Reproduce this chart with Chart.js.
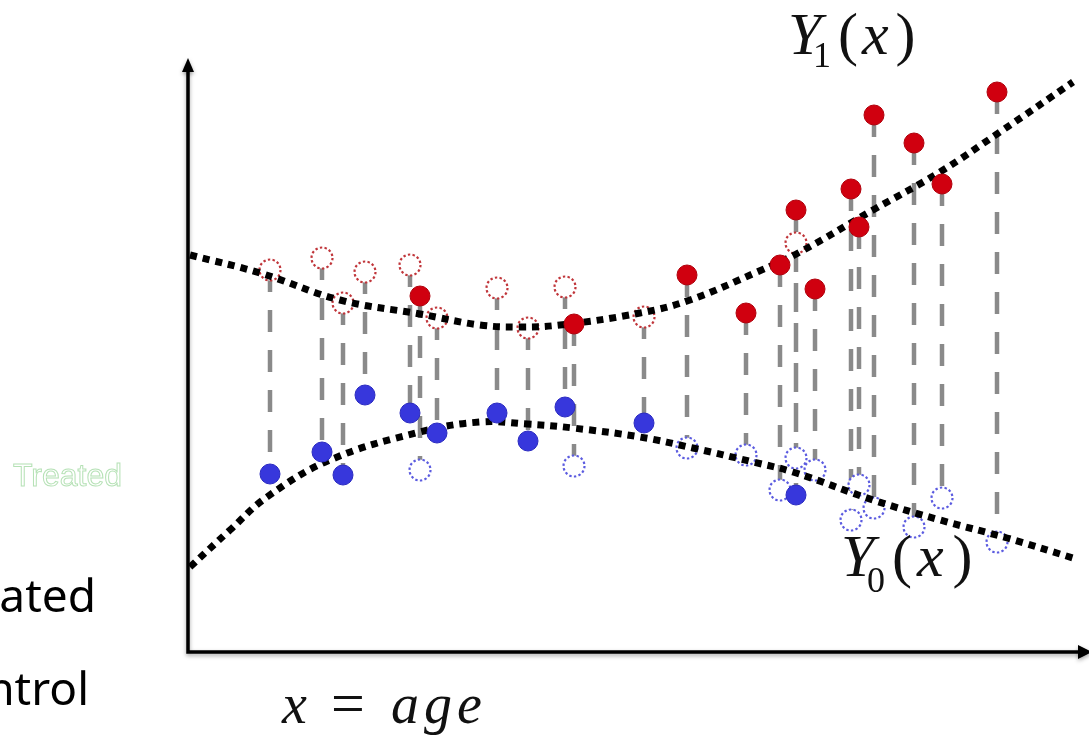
<!DOCTYPE html>
<html lang="en">
<head>
  <meta charset="UTF-8">
  <title>Potential outcomes by age</title>
  <script src="https://cdn.jsdelivr.net/npm/chart.js"></script>
  <style>
    html, body { margin: 0; padding: 0; background: #fff; }
    canvas { display: block; }
  </style>
</head>
<body>
<canvas id="chart" width="1089" height="744"></canvas>

<script>
// one entry per subject: age, outcome if treated, outcome if control, group actually observed
const ages           = [8.2, 13.4, 15.5, 17.7, 22.2, 23.2, 24.9, 30.9, 34.0, 37.7, 38.6, 45.6, 49.9, 55.8, 59.2, 60.8, 60.8, 62.7, 66.3, 67.1, 68.6, 72.6, 75.4, 80.9];
const outcomeTreated = [38.2, 39.4, 34.9, 38.0, 38.7, 35.6, 33.4, 36.4, 32.4, 36.5, 32.8, 33.5, 37.7, 33.9, 38.7, 44.2, 40.9, 36.3, 46.3, 42.5, 53.7, 50.9, 46.8, 56.0];
const outcomeControl = [17.8, 20.0, 17.7, 25.7, 23.9, 18.2, 21.9, 23.9, 21.1, 24.5, 18.6, 22.9, 20.4, 19.7, 16.2, 19.4, 15.7, 18.2, 13.2, 16.7, 14.4, 12.5, 15.4, 11.0];
const isTreated      = [0, 0, 0, 0, 0, 1, 0, 0, 0, 0, 1, 0, 1, 1, 1, 1, 0, 1, 1, 1, 1, 1, 1, 1];

// the two response curves Y1(x) and Y0(x)
const curveAgeY1 = [0.2, 7.2, 15.2, 23.2, 29.2, 33.2, 37.2, 45.2, 50.2, 56.9, 61.2, 68.5, 75.2, 81.2, 88.5];
const curveY1    = [39.7, 37.9, 35.2, 33.8, 32.7, 32.5, 32.7, 33.9, 35.2, 38.0, 40.0, 44.2, 48.0, 52.0, 57.0];
const curveAgeY0 = [0.2, 4.2, 7.9, 14.2, 23.2, 29.2, 33.9, 38.5, 45.2, 50.5, 56.5, 60.5, 68.5, 75.2, 81.9, 88.5];
const curveY0    = [8.5, 12.2, 15.5, 19.2, 22.0, 23.0, 22.8, 22.4, 21.5, 20.4, 19.0, 18.0, 15.2, 13.2, 11.4, 9.4];

const xMax = 90.1, yMax = 65.2;

const pts = (xs, ys) => xs.map((x, i) => ({ x: x, y: ys[i] }));
const pick = (want, ys) => ages.map((x, i) => ({ x: x, y: ys[i] })).filter((p, i) => isTreated[i] === want);

// vertical pairs, broken with a null so each pair is its own segment
const links = [];
ages.forEach((x, i) => {
  links.push({ x: x, y: outcomeTreated[i] }, { x: x, y: outcomeControl[i] }, { x: x, y: null });
});

function ring(color) {
  const c = document.createElement('canvas');
  c.width = c.height = 28;
  const g = c.getContext('2d');
  g.fillStyle = '#fff';
  g.beginPath(); g.arc(14, 14, 10.5, 0, Math.PI * 2); g.fill();
  g.strokeStyle = color;
  g.lineWidth = 2.2;
  g.setLineDash([2.4, 2.3]);
  g.stroke();
  return c;
}

function drawRuns(ctx, x, y, parts) {
  parts.forEach(p => {
    ctx.font = p.font;
    if (p.x !== undefined) x = p.x;
    ctx.fillText(p.t, x, y + (p.dy || 0));
    x += ctx.measureText(p.t).width + (p.gap || 0);
  });
}

const decor = {
  id: 'decor',
  beforeDatasetsDraw(chart) {
    const ctx = chart.ctx, xs = chart.scales.x, ys = chart.scales.y;
    const ox = xs.getPixelForValue(0), oy = ys.getPixelForValue(0);
    const top = ys.getPixelForValue(59.4), right = chart.width;
    ctx.save();
    ctx.shadowColor = 'rgba(0,0,0,0.35)';
    ctx.shadowBlur = 4;
    ctx.shadowOffsetY = 2;
    ctx.strokeStyle = '#000';
    ctx.fillStyle = '#000';
    ctx.lineWidth = 3.5;
    ctx.beginPath();
    ctx.moveTo(ox, top + 10);
    ctx.lineTo(ox, oy);
    ctx.lineTo(right - 8, oy);
    ctx.stroke();
    ctx.beginPath();
    ctx.moveTo(ox, top); ctx.lineTo(ox - 6, top + 14); ctx.lineTo(ox + 6, top + 14); ctx.closePath();
    ctx.fill();
    ctx.beginPath();
    ctx.moveTo(right + 3, oy); ctx.lineTo(right - 11, oy - 7); ctx.lineTo(right - 11, oy + 7); ctx.closePath();
    ctx.fill();
    ctx.restore();
  },
  afterDatasetsDraw(chart) {
    const ctx = chart.ctx;
    ctx.save();
    ctx.fillStyle = '#111';
    ctx.textAlign = 'left';
    ctx.textBaseline = 'alphabetic';
    const it = 'italic 60px "Liberation Serif"', up = '60px "Liberation Serif"', sub = '36px "Liberation Serif"';
    drawRuns(ctx, 788, 54, [
      { t: 'Y', font: it },
      { t: '1', font: sub, x: 813, dy: 13 },
      { t: '(', font: up, x: 838, gap: 4 },
      { t: 'x', font: it, gap: 7 },
      { t: ')', font: up }
    ]);
    drawRuns(ctx, 841, 576, [
      { t: 'Y', font: it },
      { t: '0', font: sub, x: 867, dy: 16 },
      { t: '(', font: up, x: 892, gap: 5 },
      { t: 'x', font: it, gap: 9 },
      { t: ')', font: up }
    ]);
    const ageFont = 'italic 56px "Liberation Serif"';
    drawRuns(ctx, 282, 723, [
      { t: 'x', font: ageFont },
      { t: '=', font: '60px "Liberation Serif"', x: 331 },
      { t: 'a', font: ageFont, x: 391, gap: 5 },
      { t: 'g', font: ageFont, gap: 5 },
      { t: 'e', font: ageFont }
    ]);

    // legend entries cut off at the left edge
    ctx.textAlign = 'right';
    ctx.font = '46px "Noto Sans"';
    ctx.fillStyle = '#000';
    ctx.fillText('Treated', 96, 612);
    ctx.fillText('Control', 89, 705);
    ctx.font = '32px "Liberation Sans"';
    ctx.strokeStyle = 'rgba(120,200,120,0.55)';
    ctx.lineWidth = 1;
    ctx.strokeText('Treated', 122, 486);
    ctx.restore();
  }
};

new Chart(document.getElementById('chart'), {
  type: 'scatter',
  data: {
    datasets: [
      {
        label: 'pairs',
        data: links,
        showLine: true,
        spanGaps: false,
        pointRadius: 0,
        borderColor: '#8a8a8a',
        borderWidth: 4.5,
        borderDash: [22, 18],
        order: 5,
        clip: false
      },
      {
        label: 'Y1 unobserved',
        data: pick(0, outcomeTreated),
        pointStyle: ring('#c0353a'),
        order: 4,
        clip: false
      },
      {
        label: 'Y0 unobserved',
        data: pick(1, outcomeControl),
        pointStyle: ring('#5b5be0'),
        order: 4,
        clip: false
      },
      {
        label: 'Y1(x)',
        data: pts(curveAgeY1, curveY1),
        showLine: true,
        pointRadius: 0,
        tension: 0.4,
        borderColor: '#000',
        borderWidth: 7,
        borderDash: [7, 6],
        borderCapStyle: 'butt',
        order: 3,
        clip: false
      },
      {
        label: 'Y0(x)',
        data: pts(curveAgeY0, curveY0),
        showLine: true,
        pointRadius: 0,
        tension: 0.4,
        borderColor: '#000',
        borderWidth: 7,
        borderDash: [7, 6],
        borderCapStyle: 'butt',
        order: 3,
        clip: false
      },
      {
        label: 'Treated',
        data: pick(1, outcomeTreated),
        pointRadius: 10,
        backgroundColor: '#d0000f',
        borderColor: '#b0000c',
        borderWidth: 1,
        order: 1,
        clip: false
      },
      {
        label: 'Control',
        data: pick(0, outcomeControl),
        pointRadius: 10,
        backgroundColor: '#3737dc',
        borderColor: '#2a2ac0',
        borderWidth: 1,
        order: 1,
        clip: false
      }
    ]
  },
  options: {
    responsive: false,
    animation: false,
    layout: { autoPadding: false, padding: { left: 188, right: 0, top: 0, bottom: 92 } },
    plugins: {
      legend: { display: false },
      tooltip: { enabled: false }
    },
    scales: {
      x: { type: 'linear', min: 0, max: xMax, display: false },
      y: { type: 'linear', min: 0, max: yMax, display: false }
    }
  },
  plugins: [decor]
});
</script>
</body>
</html>
